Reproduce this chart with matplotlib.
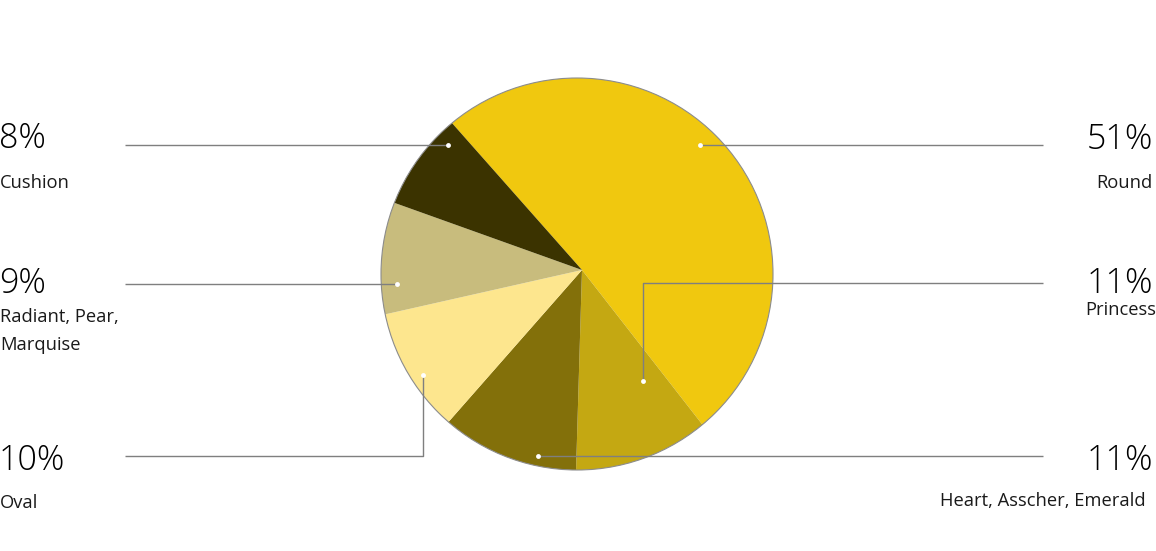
import matplotlib
matplotlib.use("Agg")
import matplotlib.pyplot as plt
from matplotlib.patches import Circle

categories = ["Round", "Princess", "Heart, Asscher, Emerald", "Oval",
              "Radiant, Pear,\nMarquise", "Cushion"]
values = [51, 11, 11, 10, 9, 8]
pct_labels = ["51%", "11%", "11%", "10%", "9%", "8%"]
colors = ["#F0C80F", "#C4A812", "#83700A", "#FDE68E", "#C8BC7D", "#3B3300"]

W, H = 1156, 551
fig = plt.figure(figsize=(W / 100, H / 100), dpi=100)
ax = fig.add_axes([0, 0, 1, 1])

def Y(y):
    return H - y

# outer circle (pixel coords) and slightly offset apex as in the reference
cx, cy, r = 577, Y(274), 196
ax_, ay_ = 582, Y(270)

wedges, _ = ax.pie(values, colors=colors, startangle=131.5, counterclock=False,
                   center=(ax_, ay_), radius=r + 20, frame=True,
                   wedgeprops=dict(linewidth=0))
ax.set_xlim(0, W)
ax.set_ylim(0, H)
ax.axis("off")
outline = Circle((cx, cy), r, fill=False, edgecolor="#8c8c8c", lw=0.8, zorder=3)
ax.add_patch(outline)
for w in wedges:
    w.set_clip_on(True)
    w.set_clip_path(outline)

font = "Open Sans"
line_c = "#7f7f7f"

# leader lines: path points in pixel coords, dot at last point
leaders = [
    [(1043, 145), (700, 145)],                 # Round
    [(1043, 283), (643, 283), (643, 381)],     # Princess
    [(1043, 456), (538, 456)],                 # Heart
    [(125, 456), (423, 456), (423, 375)],      # Oval
    [(125, 284), (397, 284)],                  # Radiant
    [(125, 145), (448, 145)],                  # Cushion
]
for pts in leaders:
    xs = [p[0] for p in pts]
    ys = [Y(p[1]) for p in pts]
    ax.plot(xs, ys, color=line_c, lw=1.0, zorder=4, solid_capstyle="butt")
    ax.plot(xs[-1], ys[-1], "o", color="white", ms=3.5, mec="none", zorder=5)

# label placement: (pct x, label x, pct baseline, label baseline, align)
placement = [
    (1153, 1152, 149, 188, "right"),
    (1153, 1156, 293, 315, "right"),
    (1153, 1146, 470, 506, "right"),
    (-1, 0, 470, 508, "left"),
    (-1, 0, 293, 322, "left"),
    (-1, 0, 148, 188, "left"),
]
for (xp, xl, yp, yl, ha), pct, cat in zip(placement, pct_labels, categories):
    ax.text(xp, Y(yp), pct, ha=ha, va="baseline", fontsize=24.5,
            family=font, fontweight="light", color="#000000")
    lines = cat.split("\n")
    for i, ln in enumerate(lines):
        ax.text(xl, Y(yl + i * 28), ln, ha=ha, va="baseline", fontsize=13.2,
                family=font, color="#1a1a1a")

fig.savefig("out.png", dpi=100, facecolor="white")
